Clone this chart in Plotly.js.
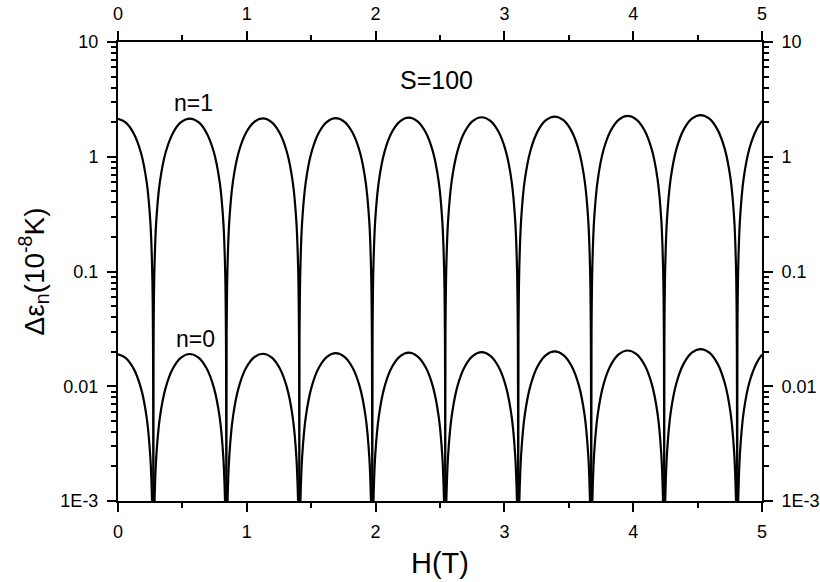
<!DOCTYPE html>
<html>
<head>
<meta charset="utf-8">
<script src="https://cdn.plot.ly/plotly-3.0.1.min.js"></script>
<style>html,body{margin:0;padding:0;background:#fff;}#chart{width:820px;height:582px;}</style>
</head>
<body>
<div id="chart"></div>
<script>
// Field H (T), shared by both curves
const fieldH = [
  0, 0.0587, 0.1210, 0.1777, 0.2230, 0.2513, 0.2655, 0.2717, 0.274,
  0.2763, 0.2825, 0.2967, 0.3250, 0.3703, 0.4270, 0.4893, 0.5573, 0.6253, 0.6876, 0.7443, 0.7896, 0.8179, 0.8321, 0.8383, 0.841,
  0.8433, 0.8495, 0.8637, 0.8920, 0.9373, 0.9940, 1.0563, 1.1243, 1.1923, 1.2546, 1.3113, 1.3566, 1.3849, 1.3991, 1.4053, 1.407,
  1.4093, 1.4155, 1.4297, 1.4580, 1.5033, 1.5600, 1.6223, 1.6903, 1.7583, 1.8206, 1.8773, 1.9226, 1.9509, 1.9651, 1.9713, 1.974,
  1.9763, 1.9825, 1.9967, 2.0250, 2.0703, 2.1270, 2.1893, 2.2573, 2.3253, 2.3876, 2.4443, 2.4896, 2.5179, 2.5321, 2.5383, 2.540,
  2.5423, 2.5485, 2.5627, 2.5910, 2.6363, 2.6930, 2.7553, 2.8233, 2.8913, 2.9536, 3.0103, 3.0556, 3.0839, 3.0981, 3.1043, 3.107,
  3.1093, 3.1155, 3.1297, 3.1580, 3.2033, 3.2600, 3.3223, 3.3903, 3.4583, 3.5206, 3.5773, 3.6226, 3.6509, 3.6651, 3.6713, 3.674,
  3.6763, 3.6825, 3.6967, 3.7250, 3.7703, 3.8270, 3.8893, 3.9573, 4.0253, 4.0876, 4.1443, 4.1896, 4.2179, 4.2321, 4.2383, 4.240,
  4.2423, 4.2485, 4.2627, 4.2910, 4.3363, 4.3930, 4.4553, 4.5233, 4.5913, 4.6536, 4.7103, 4.7556, 4.7839, 4.7981, 4.8043, 4.807,
  4.8093, 4.8155, 4.8297, 4.8580, 4.9033, 4.9600, 5.0
];

// n = 1 level splitting (10^-8 K)
const deltaN1 = [
  2.137, 1.990, 1.605, 1.089, 0.597, 0.268, 0.1008, 0.0269, 1e-6,
  0.0270, 0.1013, 0.2694, 0.600, 1.094, 1.613, 1.999, 2.150, 1.999, 1.613, 1.094, 0.600, 0.2694, 0.1013, 0.0270, 1e-6,
  0.0272, 0.1017, 0.2706, 0.603, 1.099, 1.620, 2.008, 2.160, 2.008, 1.620, 1.099, 0.603, 0.2706, 0.1017, 0.0272, 1e-6,
  0.0273, 0.1022, 0.2719, 0.605, 1.105, 1.628, 2.018, 2.170, 2.018, 1.628, 1.105, 0.605, 0.2719, 0.1022, 0.0273, 1e-6,
  0.0275, 0.1031, 0.2744, 0.611, 1.115, 1.643, 2.036, 2.190, 2.036, 1.643, 1.115, 0.611, 0.2744, 0.1031, 0.0275, 1e-6,
  0.0278, 0.1041, 0.2769, 0.617, 1.125, 1.658, 2.055, 2.210, 2.055, 1.658, 1.125, 0.617, 0.2769, 0.1041, 0.0278, 1e-6,
  0.0282, 0.1055, 0.2807, 0.625, 1.140, 1.680, 2.083, 2.240, 2.083, 1.680, 1.140, 0.625, 0.2807, 0.1055, 0.0282, 1e-6,
  0.0285, 0.1069, 0.2844, 0.633, 1.155, 1.703, 2.111, 2.270, 2.111, 1.703, 1.155, 0.633, 0.2844, 0.1069, 0.0285, 1e-6,
  0.0290, 0.1088, 0.2894, 0.644, 1.176, 1.733, 2.148, 2.310, 2.148, 1.733, 1.176, 0.644, 0.2894, 0.1088, 0.0290, 1e-6,
  0.0294, 0.1102, 0.2932, 0.653, 1.191, 1.755, 2.052
];

// n = 0 level splitting (10^-8 K)
const deltaN0 = [
  0.01898, 0.01767, 0.01425, 0.00967, 0.00530, 0.00238, 0.000895, 0.000239, 1e-6,
  0.000240, 0.000900, 0.00239, 0.00533, 0.00972, 0.01433, 0.01776, 0.0191, 0.01776, 0.01433, 0.00972, 0.00533, 0.00239, 0.000900, 0.000240, 1e-6,
  0.000241, 0.000904, 0.00241, 0.00536, 0.00977, 0.01440, 0.01785, 0.0192, 0.01785, 0.01440, 0.00977, 0.00536, 0.00241, 0.000904, 0.000241, 1e-6,
  0.000244, 0.000914, 0.00243, 0.00541, 0.00987, 0.01455, 0.01804, 0.0194, 0.01804, 0.01455, 0.00987, 0.00541, 0.00243, 0.000914, 0.000244, 1e-6,
  0.000246, 0.000923, 0.00246, 0.00547, 0.00998, 0.01470, 0.01822, 0.0196, 0.01822, 0.01470, 0.00998, 0.00547, 0.00246, 0.000923, 0.000246, 1e-6,
  0.000249, 0.000933, 0.00248, 0.00552, 0.01008, 0.01485, 0.01841, 0.0198, 0.01841, 0.01485, 0.01008, 0.00552, 0.00248, 0.000933, 0.000249, 1e-6,
  0.000253, 0.000947, 0.00252, 0.00561, 0.01023, 0.01508, 0.01869, 0.0201, 0.01869, 0.01508, 0.01023, 0.00561, 0.00252, 0.000947, 0.000253, 1e-6,
  0.000258, 0.000966, 0.00257, 0.00572, 0.01043, 0.01538, 0.01906, 0.0205, 0.01906, 0.01538, 0.01043, 0.00572, 0.00257, 0.000966, 0.000258, 1e-6,
  0.000265, 0.000994, 0.00264, 0.00589, 0.01074, 0.01583, 0.01962, 0.0211, 0.01962, 0.01583, 0.01074, 0.00589, 0.00264, 0.000994, 0.000265, 1e-6,
  0.000270, 0.001013, 0.00269, 0.00600, 0.01094, 0.01613, 0.01886
];

const yTickVals = [0.001, 0.01, 0.1, 1, 10];
const yTickText = ['1E-3', '0.01', '0.1', '1', '10'];
const yMinorVals = [0.002,0.003,0.004,0.005,0.006,0.007,0.008,0.009,
  0.02,0.03,0.04,0.05,0.06,0.07,0.08,0.09,
  0.2,0.3,0.4,0.5,0.6,0.7,0.8,0.9,
  2,3,4,5,6,7,8,9];
const xTickVals = [0, 1, 2, 3, 4, 5];
const xTickText = ['0', '1', '2', '3', '4', '5'];

const FONT = 'Liberation Sans, Arial, sans-serif';
const lineStyle = {color: '#000', width: 2.2, shape: 'spline', smoothing: 1};

const traces = [
  {x: fieldH, y: deltaN1, mode: 'lines', line: lineStyle, name: 'n=1', showlegend: false, hoverinfo: 'skip'},
  {x: fieldH, y: deltaN0, mode: 'lines', line: lineStyle, name: 'n=0', showlegend: false, hoverinfo: 'skip'},
  {x: [0], y: [1e-6], xaxis: 'x2', yaxis: 'y2', mode: 'lines', showlegend: false, hoverinfo: 'skip'}
];

const xBase = {
  range: [0, 5], showline: true, linecolor: '#000', linewidth: 2,
  ticks: 'outside', ticklen: 9, tickwidth: 2, tickcolor: '#000',
  tickmode: 'array', tickvals: xTickVals, ticktext: xTickText,
  minor: {ticks: 'outside', ticklen: 5, tickwidth: 2, tickcolor: '#000', dtick: 0.5},
  showgrid: false, zeroline: false,
  tickfont: {family: FONT, size: 18, color: '#000'}, ticklabelstandoff: 4
};
const yBase = {
  type: 'log', range: [-3, 1], showline: true, linecolor: '#000', linewidth: 2,
  ticks: 'outside', ticklen: 9, tickwidth: 2, tickcolor: '#000',
  tickmode: 'array', tickvals: yTickVals, ticktext: yTickText,
  minor: {ticks: 'outside', ticklen: 5, tickwidth: 2, tickcolor: '#000', tickmode: 'array', tickvals: yMinorVals},
  showgrid: false, zeroline: false,
  tickfont: {family: FONT, size: 18, color: '#000'}, ticklabelstandoff: 5
};

const layout = {
  width: 820, height: 582,
  margin: {l: 118, r: 58, t: 42, b: 81},
  paper_bgcolor: '#fff', plot_bgcolor: '#fff',
  showlegend: false,
  xaxis: Object.assign({}, xBase, {
    title: {text: 'H(T)', font: {family: FONT, size: 29, color: '#000'}, standoff: 12}
  }),
  xaxis2: Object.assign({}, xBase, {overlaying: 'x', side: 'top'}),
  yaxis: Object.assign({}, yBase, {
    title: {text: 'Δε<sub>n</sub>(10<sup>-8</sup>K)', font: {family: FONT, size: 28, color: '#000'}, standoff: 8}
  }),
  yaxis2: Object.assign({}, yBase, {overlaying: 'y', side: 'right'}),
  annotations: [
    {text: 'S=100', x: 2.47, y: 0.669, xref: 'x', yref: 'y', showarrow: false, font: {family: FONT, size: 25, color: '#000'}},
    {text: 'n=1', x: 0.585, y: 0.47, xref: 'x', yref: 'y', showarrow: false, font: {family: FONT, size: 23, color: '#000'}},
    {text: 'n=0', x: 0.60, y: -1.588, xref: 'x', yref: 'y', showarrow: false, font: {family: FONT, size: 23, color: '#000'}}
  ]
};

Plotly.newPlot('chart', traces, layout, {staticPlot: true, displayModeBar: false});
</script>
</body>
</html>
